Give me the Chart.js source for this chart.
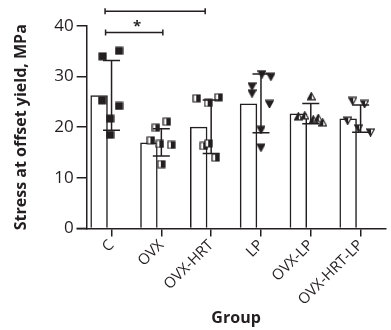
<!DOCTYPE html>
<html>
<head>
<meta charset="utf-8">
<script src="https://cdn.jsdelivr.net/npm/chart.js@4.4.1/dist/chart.umd.min.js"></script>
<style>
  body { margin: 0; background: #fff; }
  #wrap { width: 391px; height: 330px; }
</style>
</head>
<body>
<div id="wrap"><canvas id="chart"></canvas></div>
<script>
// data
const groups = ['C', 'OVX', 'OVX-HRT', 'LP', 'OVX-LP', 'OVX-HRT-LP'];
const means = [26.3, 17.0, 20.1, 24.7, 22.7, 21.7];
const sds = [6.9, 2.7, 5.3, 5.8, 2.0, 2.7];

const ptsC = [34.0, 35.1, 25.3, 24.2, 21.7, 18.5];
const ptsOVX = [19.9, 21.1, 17.4, 16.7, 16.5, 12.7];
const ptsOVXHRT = [25.7, 24.8, 25.9, 16.3, 16.8, 14.0];
const ptsLP = [30.5, 30.0, 28.1, 26.7, 24.6, 19.5, 16.0];
const ptsOVXLP = [26.1, 22.1, 22.3, 21.5, 21.8, 20.9];
const ptsOVXHRTLP = [25.2, 24.6, 21.3, 19.8, 19.0];

// horizontal scatter of the dots inside each group (category units)
const jitC = [-0.18, 0.15, -0.19, 0.15, -0.03, -0.03];
const jitOVX = [-0.11, 0.11, -0.21, -0.03, 0.2, 0];
const jitOVXHRT = [-0.29, -0.06, 0.15, -0.15, -0.05, 0.09];
const jitLP = [0.02, 0.2, -0.18, -0.18, 0.17, 0, 0];
const jitOVXLP = [0.01, -0.25, -0.12, 0.05, 0.15, 0.24];
const jitOVXHRTLP = [-0.16, 0.08, -0.26, -0.04, 0.2];

const ink = '#231f20';

function marker(shape, half) {
  const c = document.createElement('canvas');
  c.width = 9; c.height = 9;
  const g = c.getContext('2d');
  g.lineWidth = 1.2;
  g.strokeStyle = ink;
  g.fillStyle = ink;
  function path() {
    g.beginPath();
    if (shape === 'square') g.rect(1, 1, 7, 7);
    else if (shape === 'down') { g.moveTo(0.6, 1.2); g.lineTo(8.4, 1.2); g.lineTo(4.5, 8.3); g.closePath(); }
    else { g.moveTo(4.5, 0.7); g.lineTo(8.4, 7.8); g.lineTo(0.6, 7.8); g.closePath(); }
  }
  if (!half) {
    path(); g.fill(); g.stroke();
  } else {
    g.fillStyle = '#fff';
    path(); g.fill();
    g.save();
    g.beginPath();
    if (half === 'right') g.rect(4, 0, 5, 9); else g.rect(0, 0, 5, 9);
    g.clip();
    g.fillStyle = ink;
    path(); g.fill();
    g.restore();
    path(); g.stroke();
  }
  return c;
}

const allPts = [ptsC, ptsOVX, ptsOVXHRT, ptsLP, ptsOVXLP, ptsOVXHRTLP];
const allJit = [jitC, jitOVX, jitOVXHRT, jitLP, jitOVXLP, jitOVXHRTLP];
const styles = [
  marker('square', null),
  marker('square', 'right'),
  marker('square', 'right'),
  marker('down', null),
  marker('up', 'left'),
  marker('down', 'left')
];

const scatterSets = allPts.map(function (pts, i) {
  return {
    type: 'scatter',
    xAxisID: 'xs',
    data: pts.map(function (v, j) { return { x: i + allJit[i][j], y: v }; }),
    pointStyle: styles[i],
    order: 1
  };
});

const overlay = {
  id: 'overlay',
  afterDatasetsDraw(chart) {
    const ctx = chart.ctx;
    const xs = chart.scales.xs;
    const y = chart.scales.y;
    const area = chart.chartArea;
    ctx.save();
    ctx.strokeStyle = ink;
    ctx.lineWidth = 1.5;
    // x axis line runs a bit left past the y axis
    ctx.beginPath();
    ctx.moveTo(area.left - 10, area.bottom); ctx.lineTo(area.left, area.bottom);
    ctx.stroke();
    for (let i = 0; i < groups.length; i++) {
      const cx = xs.getPixelForValue(i);
      const top = y.getPixelForValue(means[i] + sds[i]);
      const bot = y.getPixelForValue(means[i] - sds[i]);
      ctx.beginPath();
      ctx.moveTo(cx, top); ctx.lineTo(cx, bot);
      ctx.moveTo(cx - 8.5, top); ctx.lineTo(cx + 8.5, top);
      ctx.moveTo(cx - 8.5, bot); ctx.lineTo(cx + 8.5, bot);
      ctx.stroke();
    }
    // significance brackets
    function bracket(a, b, val, label, lift) {
      const x1 = xs.getPixelForValue(a);
      const x2 = xs.getPixelForValue(b);
      const yy = y.getPixelForValue(val);
      ctx.beginPath();
      ctx.moveTo(x1, yy); ctx.lineTo(x2, yy);
      ctx.moveTo(x1, yy - 3); ctx.lineTo(x1, yy + 3);
      ctx.moveTo(x2, yy - 3); ctx.lineTo(x2, yy + 3);
      ctx.stroke();
      ctx.fillStyle = ink;
      ctx.font = 'bold 15px "Open Sans"';
      ctx.textAlign = 'center';
      ctx.textBaseline = 'alphabetic';
      ctx.fillText(label, (x1 + x2) / 2 + 3, yy - lift);
    }
    bracket(-0.12, 1.03, 38.7, '*', 2);
    bracket(-0.13, 1.88, 42.9, '**', 7);
    ctx.restore();
  }
};

new Chart(document.getElementById('chart'), {
  data: {
    labels: groups,
    datasets: [{
      type: 'bar',
      data: means,
      backgroundColor: 'rgba(255,255,255,0)',
      borderColor: ink,
      borderWidth: 1.5,
      barPercentage: 0.7,
      categoryPercentage: 1,
      order: 2
    }].concat(scatterSets)
  },
  options: {
    responsive: true,
    maintainAspectRatio: false,
    animation: false,
    layout: { padding: { top: 26, right: 0, left: 12, bottom: 2 } },
    plugins: { legend: { display: false }, tooltip: { enabled: false } },
    elements: { point: { radius: 4.5 } },
    scales: {
      x: {
        type: 'category',
        grid: { drawOnChartArea: false, offset: false, tickLength: 8, color: ink, lineWidth: 1.5 },
        border: { color: ink, width: 1.5 },
        ticks: { color: ink, font: { family: 'Open Sans', size: 15 }, minRotation: 45, maxRotation: 45, padding: 0 },
        title: { display: true, text: 'Group', color: ink, font: { family: 'Open Sans', size: 16, weight: 'bold' }, padding: { top: 0, bottom: 0 } }
      },
      xs: { type: 'linear', min: -0.5, max: 5.5, display: false },
      y: {
        min: 0, max: 40,
        grid: { drawOnChartArea: false, tickLength: 10, color: ink, lineWidth: 1.5 },
        border: { color: ink, width: 1.5 },
        ticks: { stepSize: 10, color: ink, font: { family: 'Open Sans', size: 17 }, padding: 3 },
        title: { display: true, text: 'Stress at offset yield, MPa', color: ink, font: { family: 'Open Sans', size: 16, weight: 'bold' }, padding: { top: 0, bottom: 20 } }
      }
    }
  },
  plugins: [overlay]
});
</script>
</body>
</html>
